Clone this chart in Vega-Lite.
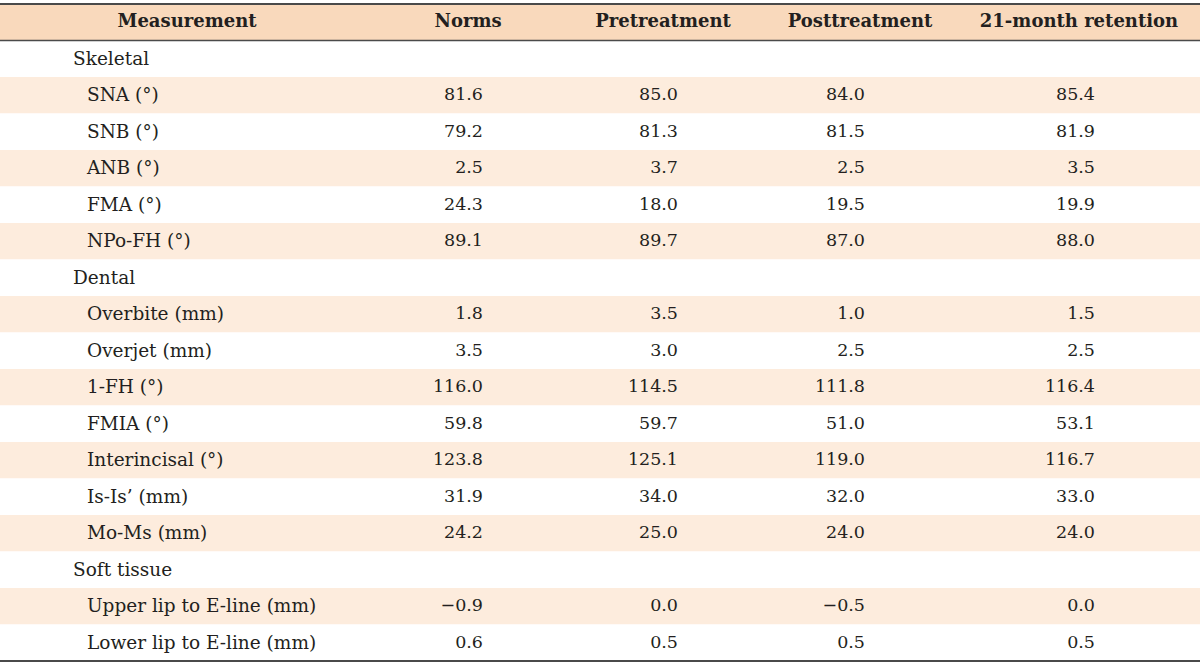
{
  "$schema": "https://vega.github.io/schema/vega-lite/v6.json",
  "width": 1200,
  "height": 662,
  "autosize": "none",
  "padding": 0,
  "background": "white",
  "config": {"view": {"stroke": null}},
  "datasets": {
    "table": [
      {"r": 0, "label": "Measurement", "lvl": 0, "fill": "header"},
      {"r": 1, "label": "Skeletal", "lvl": 0, "fill": "none"},
      {"r": 2, "label": "SNA (°)", "lvl": 1, "fill": "band", "Norms": 81.6, "Pretreatment": 85.0, "Posttreatment": 84.0, "Retention": 85.4},
      {"r": 3, "label": "SNB (°)", "lvl": 1, "fill": "none", "Norms": 79.2, "Pretreatment": 81.3, "Posttreatment": 81.5, "Retention": 81.9},
      {"r": 4, "label": "ANB (°)", "lvl": 1, "fill": "band", "Norms": 2.5, "Pretreatment": 3.7, "Posttreatment": 2.5, "Retention": 3.5},
      {"r": 5, "label": "FMA (°)", "lvl": 1, "fill": "none", "Norms": 24.3, "Pretreatment": 18.0, "Posttreatment": 19.5, "Retention": 19.9},
      {"r": 6, "label": "NPo-FH (°)", "lvl": 1, "fill": "band", "Norms": 89.1, "Pretreatment": 89.7, "Posttreatment": 87.0, "Retention": 88.0},
      {"r": 7, "label": "Dental", "lvl": 0, "fill": "none"},
      {"r": 8, "label": "Overbite (mm)", "lvl": 1, "fill": "band", "Norms": 1.8, "Pretreatment": 3.5, "Posttreatment": 1.0, "Retention": 1.5},
      {"r": 9, "label": "Overjet (mm)", "lvl": 1, "fill": "none", "Norms": 3.5, "Pretreatment": 3.0, "Posttreatment": 2.5, "Retention": 2.5},
      {"r": 10, "label": "1-FH (°)", "lvl": 1, "fill": "band", "Norms": 116.0, "Pretreatment": 114.5, "Posttreatment": 111.8, "Retention": 116.4},
      {"r": 11, "label": "FMIA (°)", "lvl": 1, "fill": "none", "Norms": 59.8, "Pretreatment": 59.7, "Posttreatment": 51.0, "Retention": 53.1},
      {"r": 12, "label": "Interincisal (°)", "lvl": 1, "fill": "band", "Norms": 123.8, "Pretreatment": 125.1, "Posttreatment": 119.0, "Retention": 116.7},
      {"r": 13, "label": "Is-Is’ (mm)", "lvl": 1, "fill": "none", "Norms": 31.9, "Pretreatment": 34.0, "Posttreatment": 32.0, "Retention": 33.0},
      {"r": 14, "label": "Mo-Ms (mm)", "lvl": 1, "fill": "band", "Norms": 24.2, "Pretreatment": 25.0, "Posttreatment": 24.0, "Retention": 24.0},
      {"r": 15, "label": "Soft tissue", "lvl": 0, "fill": "none"},
      {"r": 16, "label": "Upper lip to E-line (mm)", "lvl": 1, "fill": "band", "Norms": -0.9, "Pretreatment": 0.0, "Posttreatment": -0.5, "Retention": 0.0},
      {"r": 17, "label": "Lower lip to E-line (mm)", "lvl": 1, "fill": "none", "Norms": 0.6, "Pretreatment": 0.5, "Posttreatment": 0.5, "Retention": 0.5}
    ],
    "columns": [
      {"ci": 0, "key": "Measurement", "title": "Measurement"},
      {"ci": 1, "key": "Norms", "title": "Norms"},
      {"ci": 2, "key": "Pretreatment", "title": "Pretreatment"},
      {"ci": 3, "key": "Posttreatment", "title": "Posttreatment"},
      {"ci": 4, "key": "Retention", "title": "21-month retention"}
    ]
  },
  "encoding": {
    "y": {
      "field": "r",
      "type": "ordinal",
      "scale": {"domain": [0,1,2,3,4,5,6,7,8,9,10,11,12,13,14,15,16,17], "range": [4, 661], "paddingInner": 0, "paddingOuter": 0},
      "axis": null
    }
  },
  "layer": [
    {
      "data": {"name": "table"},
      "mark": {"type": "rect"},
      "encoding": {
        "color": {
          "field": "fill",
          "type": "nominal",
          "scale": {"domain": ["header", "band", "none"], "range": ["#f9d9bc", "#fdecdd", "#ffffff"]},
          "legend": null
        }
      }
    },
    {
      "data": {"name": "table"},
      "transform": [{"filter": "datum.r == 0"}],
      "mark": {"type": "rule", "color": "#4a4a4a", "strokeWidth": 2},
      "encoding": {"y": {"field": "r", "type": "ordinal", "bandPosition": 0}}
    },
    {
      "data": {"name": "table"},
      "transform": [{"filter": "datum.r == 0"}],
      "mark": {"type": "rule", "color": "#4a4a4a", "strokeWidth": 1.5},
      "encoding": {"y": {"field": "r", "type": "ordinal", "bandPosition": 1}}
    },
    {
      "data": {"name": "table"},
      "transform": [{"filter": "datum.r == 17"}],
      "mark": {"type": "rule", "color": "#4a4a4a", "strokeWidth": 2},
      "encoding": {"y": {"field": "r", "type": "ordinal", "bandPosition": 1}}
    },
    {
      "data": {"name": "table"},
      "transform": [{"filter": "datum.r > 0"}],
      "mark": {"type": "text", "align": "left", "baseline": "middle", "font": "DejaVu Serif", "fontSize": 18.5, "color": "#231f20"},
      "encoding": {
        "x": {"field": "lvl", "type": "quantitative", "scale": {"domain": [0, 1], "range": [73, 87]}, "axis": null},
        "text": {"field": "label"}
      }
    },
    {
      "data": {"name": "table"},
      "transform": [
        {"fold": ["Norms", "Pretreatment", "Posttreatment", "Retention"]},
        {"filter": "isValid(datum.value)"},
        {"lookup": "key", "from": {"data": {"name": "columns"}, "key": "key", "fields": ["ci"]}}
      ],
      "mark": {"type": "text", "align": "right", "baseline": "middle", "font": "DejaVu Serif", "fontSize": 17.5, "color": "#231f20"},
      "encoding": {
        "x": {"field": "ci", "type": "quantitative", "scale": {"domain": [1, 2, 3, 4], "range": [483, 678, 865, 1095]}, "axis": null},
        "text": {"field": "value", "type": "quantitative", "format": ".1f"}
      }
    },
    {
      "data": {"name": "columns"},
      "mark": {"type": "text", "align": "center", "baseline": "middle", "font": "DejaVu Serif", "fontSize": 18, "fontWeight": "bold", "color": "#231f20"},
      "encoding": {
        "y": {"datum": 0, "type": "ordinal"},
        "x": {"field": "ci", "type": "quantitative", "scale": {"domain": [0, 1, 2, 3, 4], "range": [187, 468, 663, 860, 1079]}, "axis": null},
        "text": {"field": "title"}
      }
    }
  ],
  "resolve": {"scale": {"x": "independent"}}
}
